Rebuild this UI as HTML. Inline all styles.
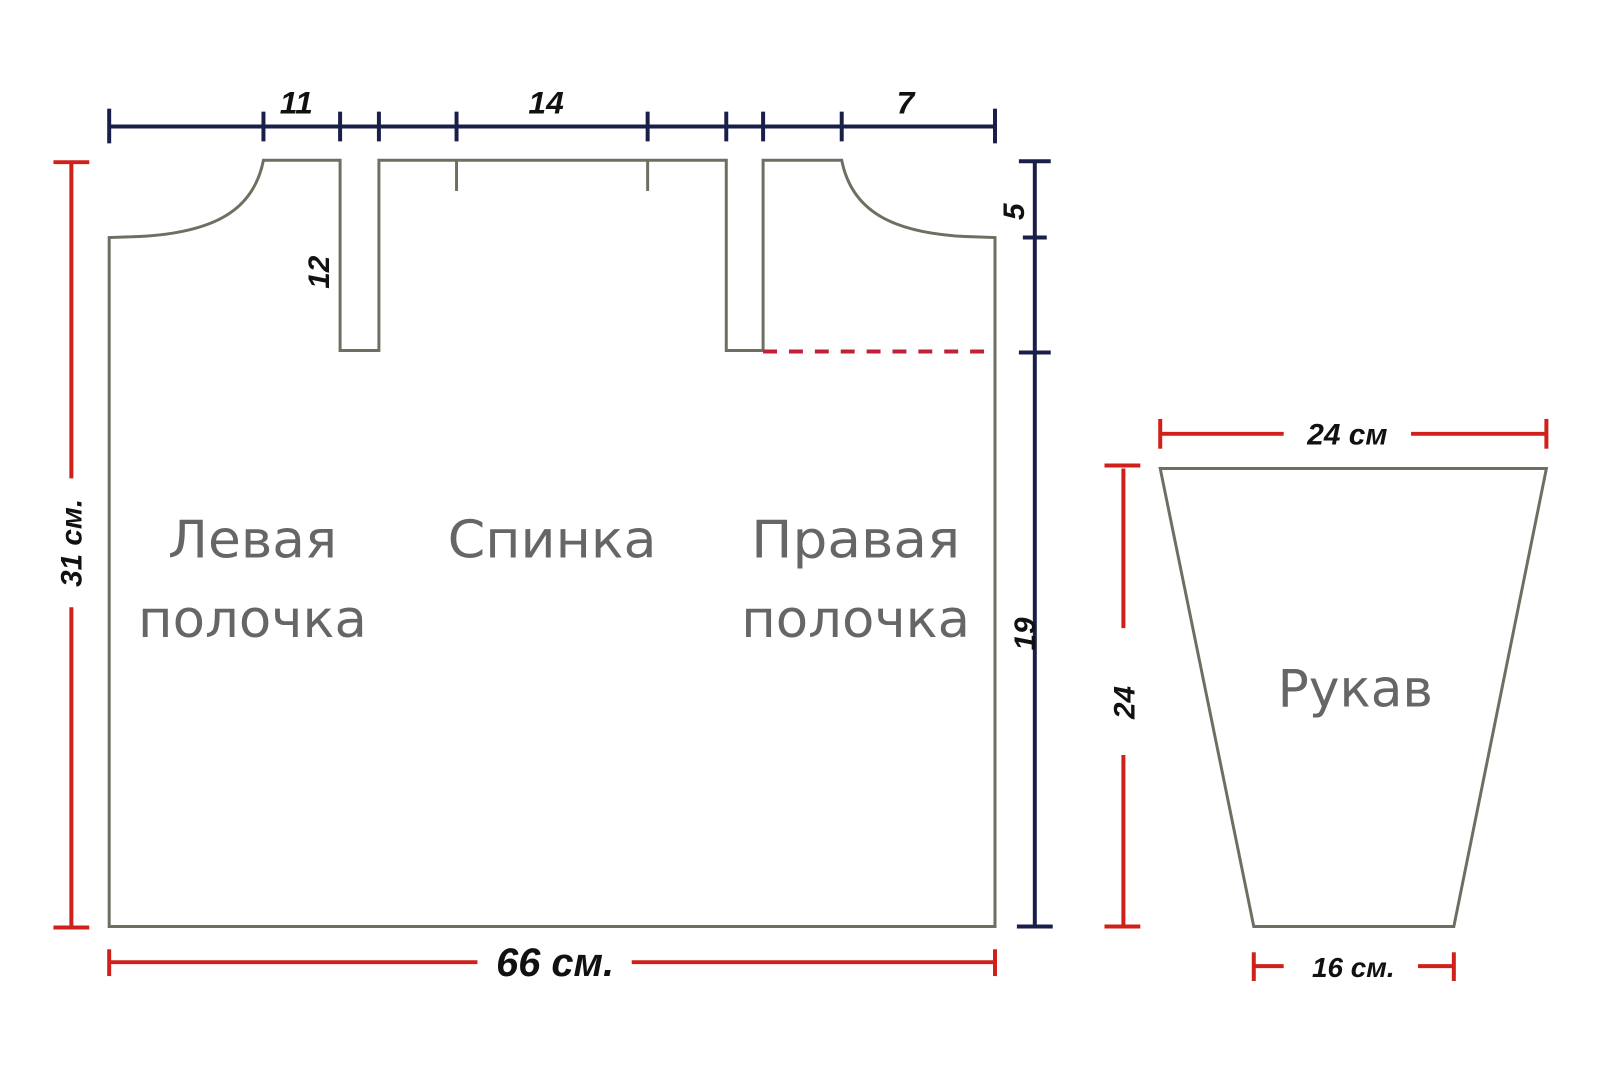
<!DOCTYPE html>
<html><head><meta charset="utf-8"><style>
html,body{margin:0;padding:0;background:#fff;width:1600px;height:1088px;overflow:hidden}
svg{display:block}
.d{font-family:"Liberation Sans",sans-serif;font-weight:bold;font-style:italic;fill:#111}
.l{font-family:"DejaVu Sans","Liberation Sans",sans-serif;fill:#666;font-size:52px}
</style></head><body>
<svg width="1600" height="1088" viewBox="0 0 1600 1088" xmlns="http://www.w3.org/2000/svg">
<g transform="matrix(0.9953 0 0 0.9913 -0.3 2.6)">
<!-- body outline -->
<g fill="none" stroke="#6b7060" stroke-width="3">
<path d="M110,932 L110,237 L140,236 C215,232 255,210 265,159 L342,159 L342,351 L381,351 L381,159 L730,159 L730,351 L767,351 L767,159 L846,159 C856,210 896,232 970,236 L1000,237 L1000,932 Z"/>
<line x1="459" y1="159" x2="459" y2="190"/>
<line x1="651" y1="159" x2="651" y2="190"/>
<path d="M1166,470 L1554,470 L1461,932 L1260,932 Z"/>
</g>
<line x1="767" y1="352" x2="1000" y2="352" stroke="#c0203a" stroke-width="4" stroke-dasharray="14,12"/>
<!-- top navy dimension -->
<g stroke="#1a1f4a" stroke-width="4">
<line x1="110" y1="125" x2="1000" y2="125"/>
<line x1="110" y1="107" x2="110" y2="142"/>
<line x1="265" y1="110" x2="265" y2="140"/>
<line x1="342" y1="110" x2="342" y2="140"/>
<line x1="381" y1="110" x2="381" y2="140"/>
<line x1="459" y1="110" x2="459" y2="140"/>
<line x1="651" y1="110" x2="651" y2="140"/>
<line x1="730" y1="110" x2="730" y2="140"/>
<line x1="767" y1="110" x2="767" y2="140"/>
<line x1="846" y1="110" x2="846" y2="140"/>
<line x1="1000" y1="107" x2="1000" y2="142"/>
<line x1="1040" y1="160" x2="1040" y2="932"/>
<line x1="1024" y1="160" x2="1056" y2="160"/>
<line x1="1028" y1="237" x2="1052" y2="237"/>
<line x1="1024" y1="353" x2="1056" y2="353"/>
<line x1="1022" y1="932" x2="1058" y2="932"/>
</g>
<!-- red dims -->
<g stroke="#d0201a" stroke-width="4">
<line x1="72" y1="162" x2="72" y2="480"/>
<line x1="72" y1="610" x2="72" y2="933"/>
<line x1="54" y1="161" x2="90" y2="161"/>
<line x1="54" y1="933" x2="90" y2="933"/>
<line x1="110" y1="968" x2="480" y2="968"/>
<line x1="635" y1="968" x2="1000" y2="968"/>
<line x1="110" y1="955" x2="110" y2="982"/>
<line x1="1000" y1="955" x2="1000" y2="982"/>
<line x1="1166" y1="435" x2="1290" y2="435"/>
<line x1="1418" y1="435" x2="1554" y2="435"/>
<line x1="1166" y1="420" x2="1166" y2="450"/>
<line x1="1554" y1="420" x2="1554" y2="450"/>
<line x1="1129" y1="470" x2="1129" y2="631"/>
<line x1="1129" y1="759" x2="1129" y2="932"/>
<line x1="1110" y1="467" x2="1146" y2="467"/>
<line x1="1110" y1="932" x2="1146" y2="932"/>
<line x1="1260" y1="972" x2="1290" y2="972"/>
<line x1="1425" y1="972" x2="1461" y2="972"/>
<line x1="1260" y1="958" x2="1260" y2="987"/>
<line x1="1461" y1="958" x2="1461" y2="987"/>
</g>
<!-- dimension labels -->
<text class="d" x="298" y="112" font-size="32" text-anchor="middle">11</text>
<text class="d" x="549" y="112" font-size="32" text-anchor="middle">14</text>
<text class="d" x="910" y="112" font-size="32" text-anchor="middle">7</text>
<text class="d" font-size="30" text-anchor="middle" transform="translate(331,272) rotate(-90)">12</text>
<text class="d" font-size="30" text-anchor="middle" transform="translate(1029,211) rotate(-90)">5</text>
<text class="d" font-size="30" text-anchor="middle" transform="translate(1040,637) rotate(-90)">19</text>
<text class="d" font-size="30" text-anchor="middle" transform="translate(82,545) rotate(-90)">31 см.</text>
<text class="d" x="558" y="982" font-size="40" text-anchor="middle">66 см.</text>
<text class="d" x="1354" y="446" font-size="30" text-anchor="middle">24 см</text>
<text class="d" font-size="30" text-anchor="middle" transform="translate(1140,706) rotate(-90)">24</text>
<text class="d" x="1360" y="983" font-size="28" text-anchor="middle">16 см.</text>
<!-- piece labels -->
<text class="l" x="254" y="560" text-anchor="middle" textLength="170" lengthAdjust="spacingAndGlyphs">Левая</text>
<text class="l" x="254" y="640" text-anchor="middle" textLength="230" lengthAdjust="spacingAndGlyphs">полочка</text>
<text class="l" x="555" y="560" text-anchor="middle" textLength="210" lengthAdjust="spacingAndGlyphs">Спинка</text>
<text class="l" x="860" y="560" text-anchor="middle" textLength="210" lengthAdjust="spacingAndGlyphs">Правая</text>
<text class="l" x="860" y="640" text-anchor="middle" textLength="230" lengthAdjust="spacingAndGlyphs">полочка</text>
<text class="l" x="1362" y="710" text-anchor="middle" textLength="156" lengthAdjust="spacingAndGlyphs">Рукав</text>
</g>
</svg>
</body></html>
